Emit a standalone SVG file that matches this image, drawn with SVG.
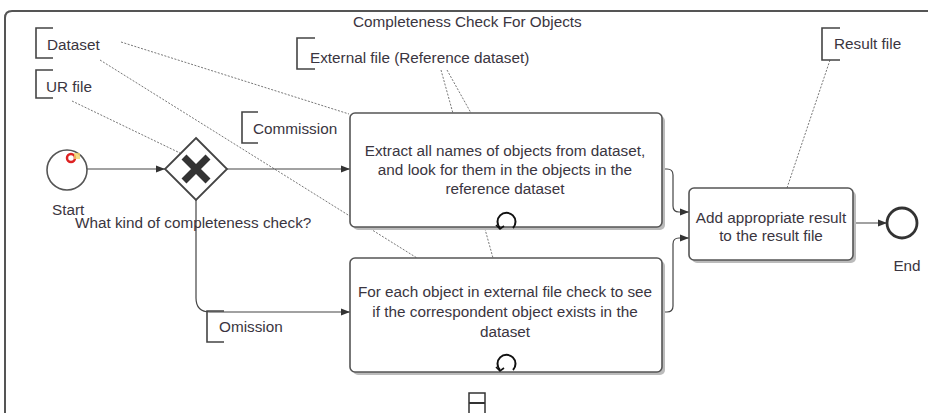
<svg xmlns="http://www.w3.org/2000/svg" width="928" height="413" viewBox="0 0 928 413">
<style>
text{font-family:"Liberation Sans",Arial,sans-serif;fill:#3a3540;font-size:15.3px;}
.task{fill:#fff;stroke:#555;stroke-width:1.6;}
.shadow{fill:#bbb;}
.brk{fill:none;stroke:#444;stroke-width:1.6;}
.flow{fill:none;stroke:#444;stroke-width:1.2;}
.assoc{fill:none;stroke:#777;stroke-width:1;stroke-dasharray:2 1.5;}
.loop{fill:none;stroke:#111;stroke-width:2;}
</style>
<defs>
<marker id="arr" viewBox="0 0 10 10" refX="10" refY="5" markerWidth="9" markerHeight="9" markerUnits="userSpaceOnUse" orient="auto">
<path d="M0,1 L10,5 L0,9 z" fill="#333"/>
</marker>
</defs>
<rect width="928" height="413" fill="#fff"/>
<g id="pool">
<path d="M5,420 L5,18 Q5,11 12,11 L935,11" fill="none" stroke="#555" stroke-width="2"/>
<text x="353" y="27">Completeness Check For Objects</text>
</g>
<g id="connectors">
<path class="assoc" d="M121,42 L349,114"/>
<path class="assoc" d="M100,60 L417,258"/>
<path class="assoc" d="M72,101 L180,153"/>
<path class="assoc" d="M447,70 L471,113"/>
<path class="assoc" d="M441,70 L493,258"/>
<path class="assoc" d="M830,60 L787,188"/>
<path class="flow" d="M87,169 L165,169" marker-end="url(#arr)"/>
<path class="flow" d="M227,169 L350,169" marker-end="url(#arr)"/>
<path class="flow" d="M196,200 L196,298 Q196,312 210,312 L350,312" marker-end="url(#arr)"/>
<path class="flow" d="M662,169 L667,169 Q673,169 673,175 L673,206 Q673,212 679,212 L689,212" marker-end="url(#arr)"/>
<path class="flow" d="M662,312 L667,312 Q673,312 673,306 L673,244 Q673,238 679,238 L689,238" marker-end="url(#arr)"/>
<path class="flow" d="M853,223 L887,223" marker-end="url(#arr)"/>
</g>
<g id="start">
<circle cx="67" cy="170" r="20" fill="#fff" stroke="#555" stroke-width="1.6"/>
<circle cx="71" cy="158" r="4" fill="none" stroke="#d22" stroke-width="2.5"/>
<rect x="74" y="153" width="6" height="6" fill="#f3d36a" opacity="0.8"/>
<text x="52" y="215">Start</text>
</g>
<g id="gateway">
<path d="M196,138 L227,169 L196,200 L165,169 Z" fill="#fff" stroke="#444" stroke-width="1.8"/>
<path d="M184,157 L208,181 M208,157 L184,181" stroke="#333" stroke-width="7" stroke-linecap="butt"/>
<text x="75" y="228">What kind of completeness check?</text>
</g>
<g id="dataset">
<path class="brk" d="M53,28 L36,28 L36,58 L53,58"/>
<text x="47" y="50">Dataset</text>
</g>
<g id="urfile">
<path class="brk" d="M53,70 L36,70 L36,98 L53,98"/>
<text x="46" y="92">UR file</text>
</g>
<g id="external">
<path class="brk" d="M315,38 L297,38 L297,69 L315,69"/>
<text x="310" y="63">External file (Reference dataset)</text>
</g>
<g id="commission">
<path class="brk" d="M258,112 L242,112 L242,143 L258,143"/>
<text x="253" y="134">Commission</text>
</g>
<g id="omission">
<path class="brk" d="M224,311 L207,311 L207,342 L224,342"/>
<text x="219" y="332">Omission</text>
</g>
<g id="resultfile">
<path class="brk" d="M840,28 L822,28 L822,60 L840,60"/>
<text x="834" y="49">Result file</text>
</g>
<g id="task1">
<rect class="shadow" x="353" y="116" width="312" height="114" rx="5"/>
<rect class="task" x="350" y="113" width="312" height="114" rx="5"/>
<text x="505" y="156" text-anchor="middle">Extract all names of objects from dataset,</text>
<text x="505" y="175" text-anchor="middle">and look for them in the objects in the</text>
<text x="505" y="194" text-anchor="middle">reference dataset</text>
<path class="loop" d="M500,228 A9,9 0 1 1 513,228"/>
<path d="M496,225 L500,229 L504,226" fill="none" stroke="#111" stroke-width="1.6"/>
</g>
<g id="task2">
<rect class="shadow" x="353" y="261" width="312" height="114" rx="5"/>
<rect class="task" x="350" y="258" width="312" height="114" rx="5"/>
<text x="505" y="297" text-anchor="middle">For each object in external file check to see</text>
<text x="505" y="317" text-anchor="middle">if the correspondent object exists in the</text>
<text x="505" y="337" text-anchor="middle">dataset</text>
<path class="loop" d="M500,370 A9,9 0 1 1 513,370"/>
<path d="M496,367 L500,371 L504,368" fill="none" stroke="#111" stroke-width="1.6"/>
<rect x="469" y="393" width="16" height="22" fill="#fff" stroke="#333" stroke-width="1.5"/>
<line x1="469" y1="403" x2="485" y2="403" stroke="#333" stroke-width="2"/>
</g>
<g id="task3">
<rect class="shadow" x="692" y="191" width="164" height="72" rx="5"/>
<rect class="task" x="689" y="188" width="164" height="72" rx="5"/>
<text x="771" y="223" text-anchor="middle">Add appropriate result</text>
<text x="771" y="241" text-anchor="middle">to the result file</text>
</g>
<g id="end">
<circle cx="902" cy="223" r="15" fill="#fff" stroke="#333" stroke-width="2.8"/>
<text x="907" y="271" text-anchor="middle">End</text>
</g>
</svg>
